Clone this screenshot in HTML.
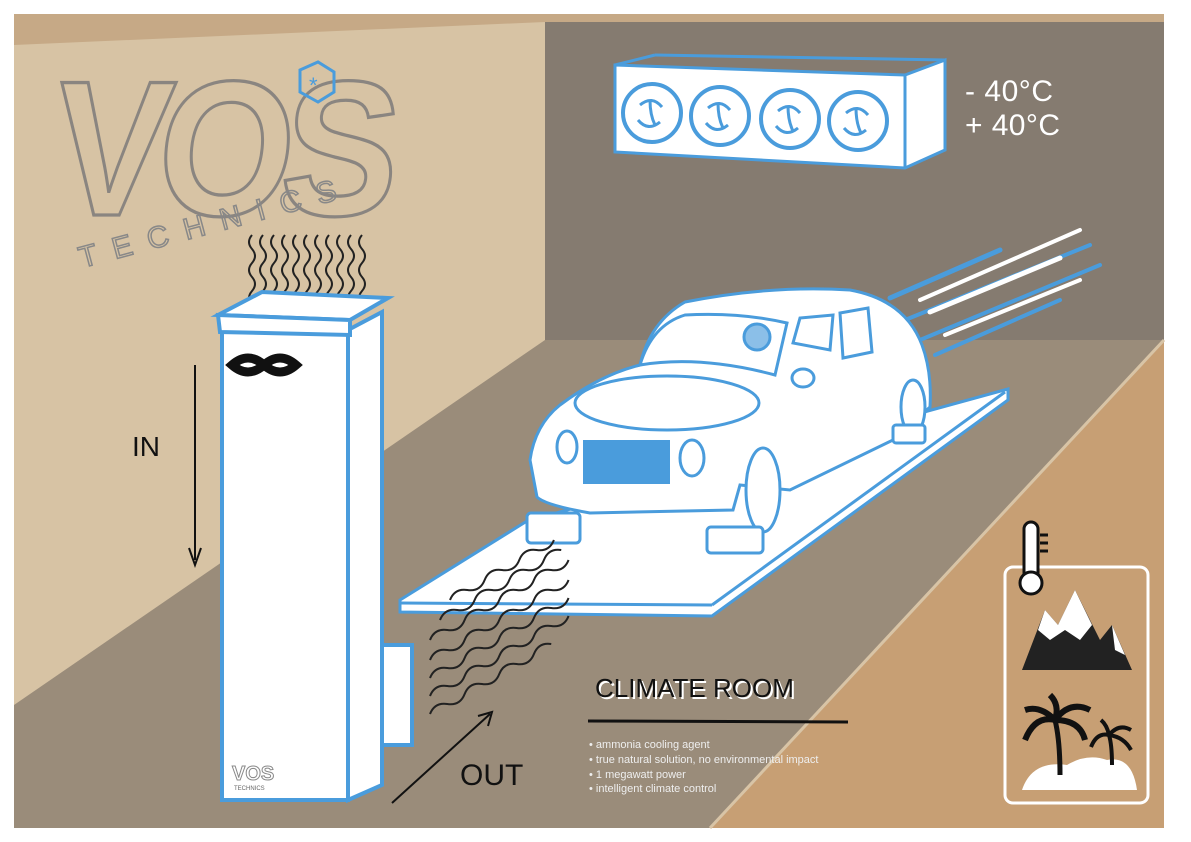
<!DOCTYPE html>
<html><head><meta charset="utf-8"><style>
html,body{margin:0;padding:0;background:#fff}
svg{display:block}
text{font-family:"Liberation Sans",sans-serif}
</style></head><body>
<svg width="1191" height="842" viewBox="0 0 1191 842" xmlns="http://www.w3.org/2000/svg">
<rect x="0" y="0" width="1191" height="842" fill="#fff"/>
<rect x="14" y="14" width="1150" height="814" fill="#d7c3a4"/>
<polygon points="14,14 1164,14 1164,22 545,22 14,45" fill="#c6a986"/>
<polygon points="545,22 1164,22 1164,340 545,340" fill="#857b70"/>
<polygon points="545,340 1164,340 710,828 14,828 14,705" fill="#9a8c7a"/>
<polygon points="1164,340 1164,828 710,828" fill="#c79f74"/>
<line x1="1164" y1="340" x2="710" y2="828" stroke="#d8c4a6" stroke-width="3"/>

<!-- logo -->
<g transform="translate(48,215) scale(1,1.1)">
<text x="0" y="0" font-size="175" font-weight="bold" fill="none" stroke="#8a8580" stroke-width="3" letter-spacing="-12" transform="skewX(-6)">VOS</text>
</g>
<polygon points="300,70 318,62 334,72 334,92 318,102 300,92" fill="none" stroke="#4a9cdc" stroke-width="3"/>
<text x="309" y="93" font-size="22" fill="#4a9cdc">*</text>
<text x="82" y="268" font-size="30" fill="none" stroke="#888" stroke-width="1.5" letter-spacing="16" transform="rotate(-15 82 268)">TECHNICS</text>

<!-- fan unit -->
<polygon points="615,65 905,75 945,60 945,150 905,168 615,152" fill="#fff" stroke="#4a9cdc" stroke-width="3"/>
<line x1="905" y1="75" x2="905" y2="168" stroke="#4a9cdc" stroke-width="3"/>
<line x1="615" y1="65" x2="655" y2="55" stroke="#4a9cdc" stroke-width="3"/>
<line x1="655" y1="55" x2="945" y2="60" stroke="#4a9cdc" stroke-width="3"/>
<g fill="#fff" stroke="#4a9cdc" stroke-width="4">
<circle cx="652" cy="113" r="29"/><circle cx="720" cy="116" r="29"/><circle cx="790" cy="119" r="29"/><circle cx="858" cy="121" r="29"/>
</g>
<g stroke="#4a9cdc" stroke-width="3" fill="none">
<path d="M640,105 q12,-10 22,2 M660,122 q-12,10 -22,-2 M650,100 q0,15 5,25"/>
<path d="M708,108 q12,-10 22,2 M728,125 q-12,10 -22,-2 M718,103 q0,15 5,25"/>
<path d="M778,111 q12,-10 22,2 M798,128 q-12,10 -22,-2 M788,106 q0,15 5,25"/>
<path d="M846,113 q12,-10 22,2 M866,130 q-12,10 -22,-2 M856,108 q0,15 5,25"/>
</g>
<text x="965" y="101" font-size="30" fill="#fff" textLength="88">- 40°C</text>
<text x="965" y="135" font-size="30" fill="#fff" textLength="95">+ 40°C</text>

<!-- speed lines -->
<g stroke-linecap="round">
<line x1="890" y1="298" x2="1000" y2="250" stroke="#4a9cdc" stroke-width="5"/>
<line x1="920" y1="300" x2="1080" y2="230" stroke="#fff" stroke-width="4"/>
<line x1="905" y1="320" x2="1090" y2="245" stroke="#4a9cdc" stroke-width="4"/>
<line x1="930" y1="312" x2="1060" y2="258" stroke="#fff" stroke-width="5"/>
<line x1="920" y1="340" x2="1100" y2="265" stroke="#4a9cdc" stroke-width="4"/>
<line x1="945" y1="335" x2="1080" y2="280" stroke="#fff" stroke-width="4"/>
<line x1="935" y1="355" x2="1060" y2="300" stroke="#4a9cdc" stroke-width="4"/>
</g>

<!-- platform -->
<polygon points="400,600 527,521 1008,389 1008,400 712,616 400,612" fill="#fff" stroke="#4a9cdc" stroke-width="3"/>
<line x1="400" y1="603" x2="712" y2="605" stroke="#4a9cdc" stroke-width="3"/>
<line x1="712" y1="605" x2="1005" y2="392" stroke="#4a9cdc" stroke-width="3"/>

<!-- car -->
<g stroke="#4a9cdc" stroke-width="3" fill="#fff">
<path d="M530,460 Q535,425 560,405 Q600,375 640,365 Q650,322 685,302 Q770,285 850,290 Q905,300 922,345 Q932,372 930,407 L893,440 L790,490 L740,485 L733,510 L590,513 Q545,505 537,497 Z"/>
<path d="M640,365 Q652,325 685,315 Q740,312 787,323 L775,375 Q700,355 640,365 Z" fill="#fff"/>
<path d="M793,343 L800,318 L833,315 L830,350 Z"/>
<path d="M840,313 L868,308 L872,352 L843,358 Z"/>
<ellipse cx="667" cy="403" rx="92" ry="27"/>
<ellipse cx="567" cy="447" rx="10" ry="16"/>
<ellipse cx="692" cy="458" rx="12" ry="18"/>
<ellipse cx="803" cy="378" rx="11" ry="9"/>
<ellipse cx="763" cy="490" rx="17" ry="42"/>
<ellipse cx="913" cy="407" rx="12" ry="27"/>
<rect x="583" y="440" width="87" height="44" fill="#4a9cdc" stroke="none"/>
<rect x="527" y="513" width="53" height="30" rx="4"/>
<rect x="707" y="527" width="56" height="26" rx="4"/>
<rect x="893" y="425" width="32" height="18" rx="3"/>
</g>
<circle cx="757" cy="337" r="13" fill="#8bbfe8" stroke="#4a9cdc" stroke-width="3"/>

<!-- out waves -->
<g stroke="#222" stroke-width="2" fill="none">
<path d="M430,640 q10,-8 20,0 t20,0 t20,0 t20,0 t20,0 t20,0 t20,0 t20,0" transform="rotate(-30 430 640)"/>
<path d="M430,660 q10,-8 20,0 t20,0 t20,0 t20,0 t20,0 t20,0 t20,0 t20,0" transform="rotate(-30 430 660)"/>
<path d="M430,678 q10,-8 20,0 t20,0 t20,0 t20,0 t20,0 t20,0 t20,0 t20,0" transform="rotate(-30 430 678)"/>
<path d="M430,696 q10,-8 20,0 t20,0 t20,0 t20,0 t20,0 t20,0 t20,0 t20,0" transform="rotate(-30 430 696)"/>
<path d="M430,714 q10,-8 20,0 t20,0 t20,0 t20,0 t20,0 t20,0 t20,0" transform="rotate(-30 430 714)"/>
<path d="M440,620 q10,-8 20,0 t20,0 t20,0 t20,0 t20,0 t20,0 t20,0" transform="rotate(-30 440 620)"/>
<path d="M450,600 q10,-8 20,0 t20,0 t20,0 t20,0 t20,0 t20,0" transform="rotate(-30 450 600)"/>
</g>

<!-- tower waves -->
<g stroke="#222" stroke-width="2" fill="none">
<path d="M252,235 q-6,7 0,14 t0,14 t0,14 t0,14 t0,14"/>
<path d="M263,235 q-6,7 0,14 t0,14 t0,14 t0,14 t0,14"/>
<path d="M274,235 q-6,7 0,14 t0,14 t0,14 t0,14 t0,14"/>
<path d="M285,235 q-6,7 0,14 t0,14 t0,14 t0,14 t0,14"/>
<path d="M296,235 q-6,7 0,14 t0,14 t0,14 t0,14 t0,14"/>
<path d="M307,235 q-6,7 0,14 t0,14 t0,14 t0,14 t0,14"/>
<path d="M318,235 q-6,7 0,14 t0,14 t0,14 t0,14 t0,14"/>
<path d="M329,235 q-6,7 0,14 t0,14 t0,14 t0,14 t0,14"/>
<path d="M340,235 q-6,7 0,14 t0,14 t0,14 t0,14 t0,14"/>
<path d="M351,235 q-6,7 0,14 t0,14 t0,14 t0,14 t0,14"/>
<path d="M362,235 q-6,7 0,14 t0,14 t0,14 t0,14 t0,14"/>
</g>

<!-- tower -->
<g stroke="#4a9cdc" stroke-width="4" fill="#fff">
<polygon points="348,330 382,312 382,785 348,800"/>
<rect x="382" y="645" width="30" height="100"/>
<rect x="222" y="330" width="126" height="470"/>
<polygon points="218,315 350,320 388,298 262,292" />
<polygon points="218,315 350,320 350,335 220,332"/>
</g>
<path d="M232,365 q16,-14 32,0 q16,14 32,0 q-16,-14 -32,0 q-16,14 -32,0 z" fill="none" stroke="#111" stroke-width="9"/>
<text x="232" y="780" font-size="20" font-weight="bold" fill="#fff" stroke="#888" stroke-width="1">VOS</text>
<text x="234" y="790" font-size="6" fill="#666">TECHNICS</text>

<!-- IN / OUT -->
<text x="132" y="456" font-size="28" fill="#111">IN</text>
<line x1="195" y1="365" x2="195" y2="560" stroke="#111" stroke-width="2"/>
<polyline points="189,548 195,565 201,548" fill="none" stroke="#111" stroke-width="2"/>
<text x="460" y="785" font-size="30" fill="#111">OUT</text>
<line x1="392" y1="803" x2="490" y2="714" stroke="#111" stroke-width="2"/>
<polyline points="478,716 492,712 488,726" fill="none" stroke="#111" stroke-width="2"/>

<!-- climate room -->
<text x="597" y="699" font-size="26" fill="#fff">CLIMATE ROOM</text>
<text x="595" y="697" font-size="26" fill="#111">CLIMATE ROOM</text>
<line x1="588" y1="721" x2="848" y2="722" stroke="#111" stroke-width="3"/>
<g font-size="11" fill="#eee">
<text x="589" y="748">• ammonia  cooling agent</text>
<text x="589" y="763">• true natural  solution, no environmental  impact</text>
<text x="589" y="778">• 1 megawatt power</text>
<text x="589" y="792">• intelligent climate control</text>
</g>

<!-- right panel -->
<rect x="1005" y="567" width="143" height="236" rx="8" fill="none" stroke="#fff" stroke-width="3"/>
<rect x="1024" y="522" width="14" height="60" rx="7" fill="#fff" stroke="#111" stroke-width="3"/>
<circle cx="1031" cy="583" r="11" fill="#fff" stroke="#111" stroke-width="3"/>
<g stroke="#111" stroke-width="3"><line x1="1040" y1="535" x2="1048" y2="535"/><line x1="1040" y1="543" x2="1048" y2="543"/><line x1="1040" y1="551" x2="1048" y2="551"/></g>
<polygon points="1022,670 1045,610 1058,625 1075,590 1100,640 1112,625 1132,670" fill="#222"/>
<polygon points="1045,610 1058,625 1075,590 1092,625 1080,640 1065,630 1050,640 1038,630" fill="#fff"/>
<polygon points="1112,625 1125,655 1115,650" fill="#fff"/>
<path d="M1022,790 q10,-30 45,-25 q20,-12 40,-5 q25,-5 30,30 z" fill="#fff"/>
<path d="M1060,775 q0,-35 -5,-55" stroke="#111" stroke-width="5" fill="none"/>
<path d="M1055,720 q-20,-5 -30,20 M1055,720 q-15,-15 -30,-10 M1055,720 q15,-20 35,-10 M1055,720 q25,0 30,20 M1055,720 q5,-15 -5,-25" stroke="#111" stroke-width="6" fill="none"/>
<path d="M1112,765 q0,-20 -3,-30" stroke="#111" stroke-width="4" fill="none"/>
<path d="M1109,735 q-12,-3 -18,12 M1109,735 q10,-12 22,-5 M1109,735 q15,2 22,15 M1109,735 q-2,-10 -8,-15" stroke="#111" stroke-width="4" fill="none"/>
</svg>
</body></html>
